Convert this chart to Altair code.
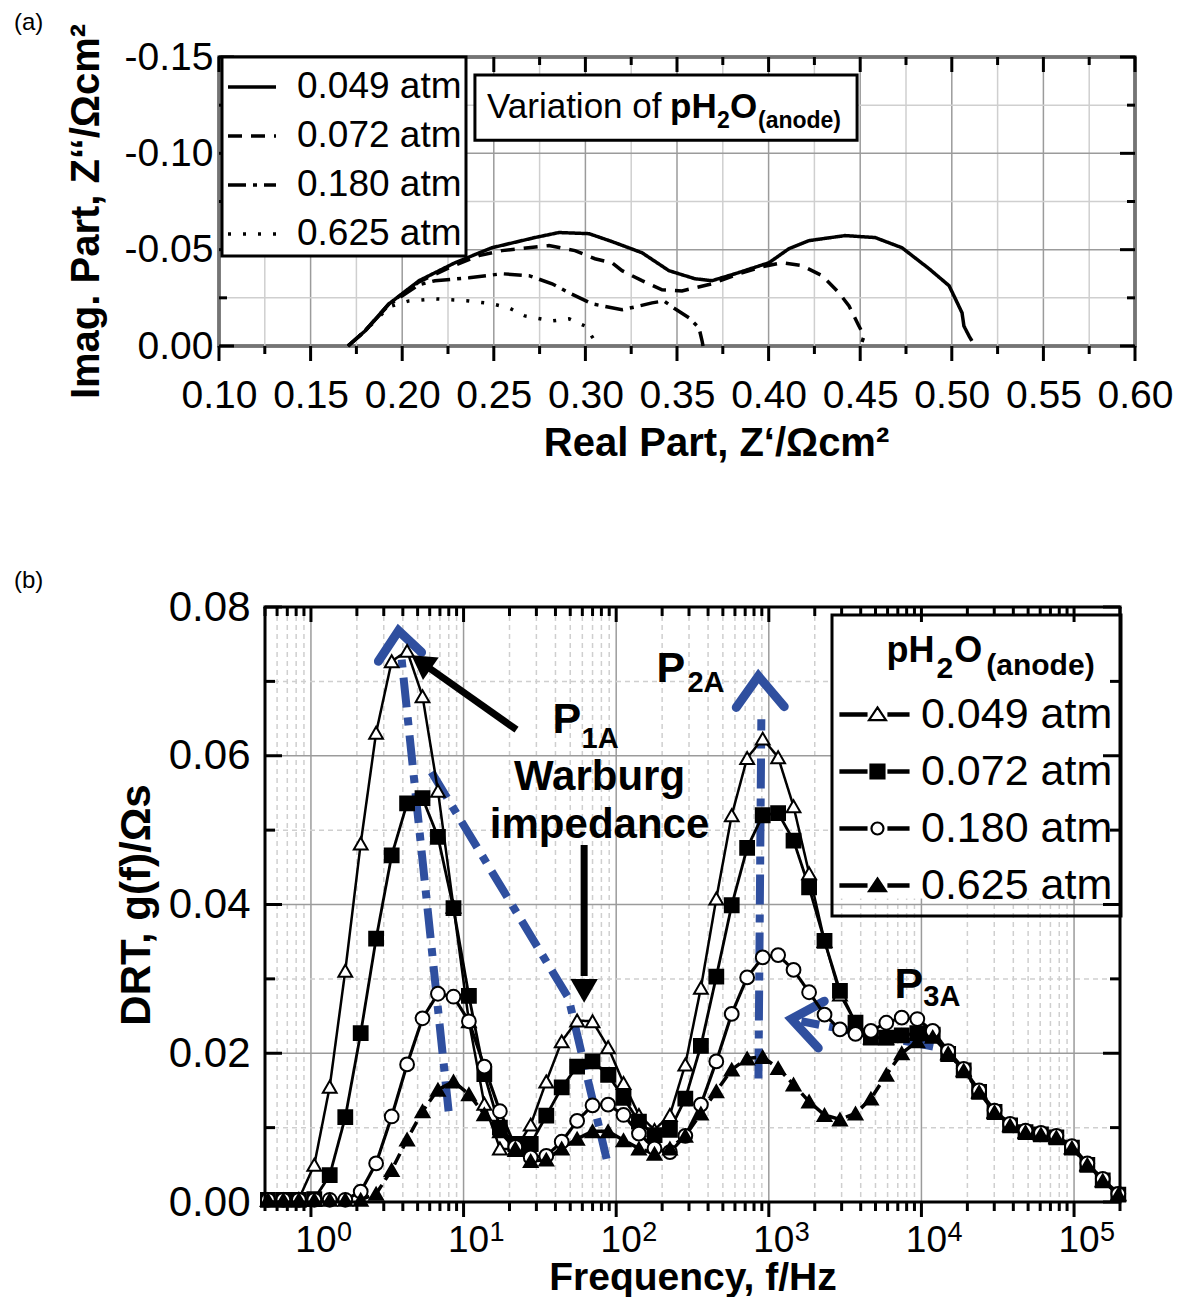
import altair as alt
import pandas as pd

FONT = "Liberation Sans"
BLUE = "#2f4f9f"
GRID_DARK = "#9b9b9b"
GRID_LIGHT = "#cfcfcf"

SERIES = ["0.049 atm", "0.072 atm", "0.180 atm", "0.625 atm"]

# ---------------- (a) Nyquist plot ----------------
ZRE_049 = [0.1704, 0.1797, 0.1928, 0.2092, 0.2288, 0.2490, 0.2725, 0.2856, 0.3020, 0.3145, 0.3309, 0.3456, 0.3598, 0.3691,
           0.3817, 0.4002, 0.4111, 0.4221, 0.4417, 0.4581, 0.4728, 0.4876, 0.4985, 0.5017, 0.5056, 0.5066, 0.5094, 0.5110]
ZIM_049 = [0.0, -0.0078, -0.0219, -0.0339, -0.0432, -0.0510, -0.0563, -0.0589, -0.0583, -0.0542, -0.0484, -0.0391, -0.0349, -0.0339,
           -0.0375, -0.0432, -0.0505, -0.0547, -0.0573, -0.0563, -0.0510, -0.0401, -0.0313, -0.0250, -0.0172, -0.0104, -0.0052, -0.0026]
ZRE_072 = [0.1704, 0.1797, 0.1928, 0.2092, 0.2255, 0.2419, 0.2545, 0.2801, 0.2943, 0.3052, 0.3145, 0.3200, 0.3309, 0.3418,
           0.3527, 0.3691, 0.3838, 0.3964, 0.4073, 0.4182, 0.4292, 0.4384, 0.4439, 0.4493, 0.4521, 0.4510]
ZIM_072 = [0.0, -0.0078, -0.0219, -0.0333, -0.0406, -0.0469, -0.0495, -0.0521, -0.0495, -0.0453, -0.0432, -0.0391, -0.0339, -0.0292,
           -0.0286, -0.0323, -0.0375, -0.0411, -0.0432, -0.0417, -0.0365, -0.0276, -0.0208, -0.0104, -0.0052, -0.0021]
ZRE_180 = [0.1704, 0.1797, 0.1928, 0.2092, 0.2179, 0.2365, 0.2545, 0.2692, 0.2818, 0.2911, 0.3036, 0.3200, 0.3271, 0.3364,
           0.3429, 0.3489, 0.3566, 0.3620, 0.3637, 0.3642]
ZIM_180 = [0.0, -0.0078, -0.0214, -0.0318, -0.0339, -0.0354, -0.0375, -0.0365, -0.0323, -0.0276, -0.0219, -0.0188, -0.0203, -0.0224,
           -0.0234, -0.0193, -0.0146, -0.0094, -0.0026, 0.0]
ZRE_625 = [0.1704, 0.1797, 0.1928, 0.2037, 0.2179, 0.2365, 0.2490, 0.2583, 0.2670, 0.2818, 0.2911, 0.2998, 0.3052, 0.3063]
ZIM_625 = [0.0, -0.0078, -0.0203, -0.0234, -0.0245, -0.0234, -0.0219, -0.0198, -0.0156, -0.0130, -0.0141, -0.0104, -0.0026, 0.0]

XA_MAJOR = [0.10, 0.15, 0.20, 0.25, 0.30, 0.35, 0.40, 0.45, 0.50, 0.55, 0.60]
XA_MINOR = [0.125, 0.175, 0.225, 0.275, 0.325, 0.375, 0.425, 0.475, 0.525, 0.575]
YA_MAJOR = [0.0, -0.05, -0.10, -0.15]
YA_MINOR = [-0.025, -0.075, -0.125]

# annotation box in (a): x0, x1, y0, y1 (data units)
BOX_A = [0.2397, 0.4483, -0.1406, -0.1068]
TXT_A_NORMAL = [("Variation of", 0.2463, -0.1182)]
TXT_A_BOLD = [("pH", 0.3462, -0.1182), ("O", 0.3789, -0.1182)]
TXT_A_SUB = [("2", 0.3718, -0.1130), ("(anode)", 0.3942, -0.1130)]

# ---------------- (b) DRT ----------------
LOG_F = [-0.282, -0.181, -0.079, 0.022, 0.123, 0.225, 0.326, 0.427, 0.529, 0.630, 0.731, 0.832, 0.934,
         1.035, 1.136, 1.238, 1.339, 1.440, 1.542, 1.643, 1.744, 1.845, 1.947,
         2.048, 2.149, 2.251, 2.352, 2.453, 2.555, 2.656, 2.757, 2.858, 2.960,
         3.061, 3.162, 3.264, 3.365, 3.466, 3.568, 3.669, 3.770, 3.871, 3.973,
         4.074, 4.175, 4.277, 4.378, 4.479, 4.581, 4.682, 4.783, 4.884, 4.986,
         5.087, 5.188, 5.290]
G_049 = [0.0003, 0.0003, 0.0004,
         0.0050, 0.0155, 0.0311, 0.0482, 0.0631, 0.0727, 0.0741, 0.0680, 0.0553, 0.0397,
         0.0243, 0.0132, 0.0072, 0.0070, 0.0104, 0.0162, 0.0216, 0.0244, 0.0243, 0.0208,
         0.0160, 0.0117, 0.0097, 0.0117, 0.0185, 0.0288, 0.0408, 0.0520, 0.0597, 0.0623,
         0.0598, 0.0532, 0.0442, 0.0351, 0.0279, 0.0241, 0.0221, 0.0220, 0.0224, 0.0228,
         0.0226, 0.0200, 0.0178, 0.0149, 0.0122, 0.0104, 0.0095, 0.0092, 0.0088, 0.0074,
         0.0051, 0.0030, 0.0011]
G_072 = [0.0003, 0.0003, 0.0003,
         0.0004, 0.0036, 0.0114, 0.0227, 0.0354, 0.0466, 0.0536, 0.0543, 0.0491, 0.0395,
         0.0277, 0.0172, 0.0100, 0.0078, 0.0078, 0.0116, 0.0154, 0.0182, 0.0189, 0.0171,
         0.0140, 0.0108, 0.0090, 0.0097, 0.0139, 0.0210, 0.0303, 0.0399, 0.0476, 0.0520,
         0.0523, 0.0486, 0.0423, 0.0351, 0.0284, 0.0241, 0.0221, 0.0221, 0.0224, 0.0227,
         0.0225, 0.0199, 0.0177, 0.0148, 0.0121, 0.0103, 0.0094, 0.0091, 0.0087, 0.0073,
         0.0050, 0.0029, 0.0010]
G_180 = [0.0003, 0.0003, 0.0003,
         0.0003, 0.0003, 0.0003, 0.0014, 0.0052, 0.0115, 0.0185, 0.0247, 0.0280, 0.0276,
         0.0243, 0.0182, 0.0122, 0.0074, 0.0060, 0.0062, 0.0081, 0.0109, 0.0130, 0.0131,
         0.0117, 0.0092, 0.0072, 0.0067, 0.0089, 0.0131, 0.0189, 0.0253, 0.0302, 0.0329,
         0.0332, 0.0312, 0.0282, 0.0252, 0.0232, 0.0226, 0.0230, 0.0241, 0.0248, 0.0246,
         0.0230, 0.0203, 0.0179, 0.0150, 0.0123, 0.0105, 0.0096, 0.0093, 0.0089, 0.0075,
         0.0052, 0.0031, 0.0011]
G_625 = [0.0003, 0.0003, 0.0003,
         0.0003, 0.0003, 0.0003, 0.0003, 0.0011, 0.0043, 0.0084, 0.0122, 0.0151, 0.0162,
         0.0145, 0.0118, 0.0095, 0.0072, 0.0055, 0.0057, 0.0072, 0.0085, 0.0095, 0.0095,
         0.0083, 0.0072, 0.0065, 0.0072, 0.0089, 0.0119, 0.0149, 0.0178, 0.0193, 0.0195,
         0.0180, 0.0158, 0.0135, 0.0117, 0.0111, 0.0119, 0.0139, 0.0171, 0.0200, 0.0216,
         0.0222, 0.0200, 0.0177, 0.0148, 0.0121, 0.0103, 0.0094, 0.0091, 0.0087, 0.0073,
         0.0050, 0.0029, 0.0010]

XB_DECADES = [1, 10, 100, 1000, 10000, 100000]
XB_EXP = ["0", "1", "2", "3", "4", "5"]
XB_MINOR = [0.5, 0.6, 0.7, 0.8, 0.9,
            2, 3, 4, 5, 6, 7, 8, 9,
            20, 30, 40, 50, 60, 70, 80, 90,
            200, 300, 400, 500, 600, 700, 800, 900,
            2000, 3000, 4000, 5000, 6000, 7000, 8000, 9000,
            20000, 30000, 40000, 50000, 60000, 70000, 80000, 90000,
            200000]
YB_MAJOR = [0.0, 0.02, 0.04, 0.06, 0.08]
YB_MINOR = [0.01, 0.03, 0.05, 0.07]

# blue dash-dot guide lines (log10 f, g) and chevron arrow heads
BLUE_LINES = {
    "l1": [(0.902, 0.0122), (0.594, 0.0730)],
    "l2": [(0.790, 0.0578), (1.688, 0.0274), (1.937, 0.0058)],
    "l3": [(2.932, 0.0166), (2.951, 0.0649)],
    "l4": [(4.077, 0.0209), (3.213, 0.0243)],
}
BLUE_HEADS = {
    "c1": [(0.442, 0.0727), (0.574, 0.0768), (0.725, 0.0739)],
    "c2": [(2.787, 0.0665), (2.932, 0.0707), (3.101, 0.0666)],
    "c3": [(3.363, 0.0270), (3.148, 0.0246), (3.324, 0.0207)],
}
BLACK_ARROWS = {
    "a1": [(1.347, 0.0635), (0.754, 0.0721)],
    "a2": [(1.790, 0.0480), (1.790, 0.0304)],
}
BLACK_HEADS = [(0.722, 0.0726, 305), (1.790, 0.0284, 180)]

TXT_B_BIG = [("P", 1.583, 0.0631), ("P", 2.264, 0.0699), ("P", 3.823, 0.0274)]
TXT_B_SUB = [("1A", 1.773, 0.0611), ("2A", 2.467, 0.0686), ("3A", 4.012, 0.0264)]
TXT_B_CENTER = [("Warburg", 1.891, 0.0554), ("impedance", 1.891, 0.0489)]
LEG_B_TITLE_BIG = [("pH", 3.771, 0.0726), ("O", 4.215, 0.0726)]
LEG_B_TITLE_SUB = [("2", 4.098, 0.0705), ("(anode)", 4.425, 0.0709)]
# white backing of the legend box in (b): log10 f0, log10 f1, g0, g1
LEG_B_BACK = [3.42, 5.30, 0.0408, 0.0788]

# ================= sizes =================
WA, HA = 916, 289
OFF_B = 46              # left offset of panel (b) frame relative to panel (a) frame
WB_IN, HB = 855, 595    # panel (b) frame size
WB = WB_IN + OFF_B

# ================= build panel (a) =================
rows = []
for name, xs, ys in [(SERIES[0], ZRE_049, ZIM_049), (SERIES[1], ZRE_072, ZIM_072),
                     (SERIES[2], ZRE_180, ZIM_180), (SERIES[3], ZRE_625, ZIM_625)]:
    for i, (xv, yv) in enumerate(zip(xs, ys)):
        rows.append({"pa": name, "zre": xv, "zim": yv, "i": i})
nyq = pd.DataFrame(rows)

xa_scale = alt.Scale(domain=[0.10, 0.60], nice=False, zero=False)
ya_scale = alt.Scale(domain=[-0.15, 0.0], nice=False, zero=False, reverse=True)
ax_xa = alt.Axis(values=XA_MAJOR, format=".2f", labelFont=FONT, labelFontSize=39, labelColor="black",
                 labelPadding=30, labelFlush=False, labelOverlap=False, ticks=False, domain=False, grid=False,
                 title="Real Part, Z‘/Ωcm²", titleFont=FONT, titleFontSize=40, titleFontWeight="bold",
                 titleColor="black", titlePadding=8, titleX=497)
ax_ya = alt.Axis(values=YA_MAJOR,
                 labelExpr="datum.value < 0 ? '-' + format(-datum.value, '.2f') : format(datum.value, '.2f')",
                 labelFont=FONT, labelFontSize=39, labelColor="black", labelPadding=6, labelFlush=False,
                 labelOverlap=False, ticks=False, domain=False, grid=False,
                 title="Imag. Part, Z‘‘/Ωcm²", titleFont=FONT, titleFontSize=40, titleFontWeight="bold",
                 titleColor="black", titlePadding=18, titleY=154)


def XA(field):
    return alt.X(f"{field}:Q", scale=xa_scale, axis=ax_xa)


def YA(field):
    return alt.Y(f"{field}:Q", scale=ya_scale, axis=ax_ya)


def vals(v):
    return pd.DataFrame({"v": v})


def ticks_x(values, enc, h, length):
    c = alt.Chart(vals(values)).mark_rule(color="black", strokeWidth=3)
    bottom = c.encode(x=enc("v"), y=alt.value(h), y2=alt.value(h + length))
    top = c.encode(x=enc("v"), y=alt.value(0), y2=alt.value(length))
    return [bottom, top]


def ticks_y(values, enc, x0, x1, length):
    c = alt.Chart(vals(values)).mark_rule(color="black", strokeWidth=3)
    left = c.encode(y=enc("v"), x=alt.value(x0), x2=alt.value(x0 + length))
    right = c.encode(y=enc("v"), x=alt.value(x1 - length), x2=alt.value(x1))
    return [left, right]


def panel_label(text, dx, dy):
    return alt.Chart(pd.DataFrame({"t": [text]})).mark_text(
        font=FONT, fontSize=24, align="left", baseline="alphabetic", color="black").encode(
        x=alt.value(dx), y=alt.value(dy), text="t:N")


grid_a = [
    alt.Chart(vals(XA_MINOR)).mark_rule(color=GRID_LIGHT, strokeWidth=1.5).encode(x=XA("v")),
    alt.Chart(vals(XA_MAJOR)).mark_rule(color=GRID_DARK, strokeWidth=1.5).encode(x=XA("v")),
    alt.Chart(vals(YA_MINOR)).mark_rule(color=GRID_LIGHT, strokeWidth=1.5).encode(y=YA("v")),
    alt.Chart(vals(YA_MAJOR)).mark_rule(color=GRID_DARK, strokeWidth=1.5).encode(y=YA("v")),
]
ticks_a = (ticks_x(XA_MAJOR, XA, HA, 15) + ticks_x(XA_MINOR, XA, HA, 8)
           + ticks_y(YA_MAJOR, YA, 0, WA, 15) + ticks_y(YA_MINOR, YA, 0, WA, 8))

legend_a = alt.Legend(title=None, orient="none", legendX=3, legendY=0, symbolType="stroke", symbolSize=2304,
                      symbolStrokeWidth=3.5, symbolStrokeColor="black", labelFont=FONT, labelFontSize=37,
                      labelColor="black", labelOffset=19, labelLimit=400, rowPadding=5, padding=4,
                      fillColor="white", strokeColor="black")
lines_a = alt.Chart(nyq).mark_line(color="black", strokeWidth=3.5, strokeCap="butt").encode(
    x=XA("zre"), y=YA("zim"), order=alt.Order("i:Q"),
    strokeDash=alt.StrokeDash("pa:N", scale=alt.Scale(domain=SERIES, range=[[1, 0], [14, 9], [18, 7, 4, 7], [3, 12]]),
                              legend=legend_a))

box_a = alt.Chart(pd.DataFrame([{"x0": BOX_A[0], "x1": BOX_A[1], "y0": BOX_A[2], "y1": BOX_A[3]}])).mark_rect(
    fill="white", stroke="black", strokeWidth=3).encode(x=XA("x0"), x2="x1", y=YA("y0"), y2="y1")


def tdf(items):
    return pd.DataFrame([{"t": t, "x": xv, "y": yv} for t, xv, yv in items])


def text_a(items, size, weight):
    return alt.Chart(tdf(items)).mark_text(font=FONT, fontSize=size, fontWeight=weight, align="left",
                                           baseline="alphabetic", color="black").encode(
        x=XA("x"), y=YA("y"), text="t:N")


texts_a = [text_a(TXT_A_NORMAL, 35, "normal"), text_a(TXT_A_BOLD, 35, "bold"), text_a(TXT_A_SUB, 23, "bold")]

chart_a = alt.layer(*grid_a, lines_a, box_a, *texts_a, *ticks_a, panel_label("(a)", -205, -27)).properties(
    width=WA, height=HA)

# ================= build panel (b) =================
rows = []
for name, gs in zip(SERIES, [G_049, G_072, G_180, G_625]):
    for k, (lf, g) in enumerate(zip(LOG_F, gs)):
        rows.append({"series": name, "f": 10 ** lf, "g": g, "k": k})
drt = pd.DataFrame(rows)

xb_scale = alt.Scale(type="log", domain=[0.5, 2e5], nice=False, range=[OFF_B, WB])
yb_scale = alt.Scale(domain=[0.0, 0.08], nice=False, zero=False)
ax_xb = alt.Axis(values=XB_DECADES, labels=False, ticks=False, domain=False, grid=False,
                 title="Frequency, f/Hz", titleFont=FONT, titleFontSize=39, titleFontWeight="bold",
                 titleColor="black", titlePadding=56, titleX=OFF_B + WB_IN / 2)
ax_yb = alt.Axis(values=YB_MAJOR, format=".2f", labelFont=FONT, labelFontSize=42, labelColor="black",
                 labelPadding=15, labelFlush=False, labelOverlap=False, ticks=False, domain=False, grid=False,
                 offset=-OFF_B,
                 title="DRT, g(f)/Ωs", titleFont=FONT, titleFontSize=42, titleFontWeight="bold",
                 titleColor="black", titlePadding=10)


def XB(field):
    return alt.X(f"{field}:Q", scale=xb_scale, axis=ax_xb)


def YB(field):
    return alt.Y(f"{field}:Q", scale=yb_scale, axis=ax_yb)


grid_b = [
    alt.Chart(vals(XB_MINOR)).mark_rule(color=GRID_LIGHT, strokeWidth=1.5, strokeDash=[5, 4]).encode(x=XB("v")),
    alt.Chart(vals(XB_DECADES)).mark_rule(color=GRID_DARK, strokeWidth=1.5).encode(x=XB("v")),
    alt.Chart(vals(YB_MINOR)).mark_rule(color=GRID_LIGHT, strokeWidth=1.5, strokeDash=[5, 4]).encode(
        y=YB("v"), x=alt.value(OFF_B), x2=alt.value(WB)),
    alt.Chart(vals(YB_MAJOR)).mark_rule(color=GRID_DARK, strokeWidth=1.5).encode(
        y=YB("v"), x=alt.value(OFF_B), x2=alt.value(WB)),
]
ticks_b = (ticks_x(XB_DECADES, XB, HB, 15) + ticks_x(XB_MINOR, XB, HB, 9)
           + ticks_y(YB_MAJOR, YB, OFF_B, WB, 17) + ticks_y(YB_MINOR, YB, OFF_B, WB, 10))

frame_rule = alt.Chart(vals([0])).mark_rule(color="black", strokeWidth=3)
frame_b = [
    frame_rule.encode(x=alt.value(OFF_B), x2=alt.value(OFF_B), y=alt.value(0), y2=alt.value(HB)),
    frame_rule.encode(x=alt.value(WB), x2=alt.value(WB), y=alt.value(0), y2=alt.value(HB)),
    frame_rule.encode(x=alt.value(OFF_B - 1.5), x2=alt.value(WB + 1.5), y=alt.value(0), y2=alt.value(0)),
    frame_rule.encode(x=alt.value(OFF_B - 1.5), x2=alt.value(WB + 1.5), y=alt.value(HB), y2=alt.value(HB)),
]

lab10 = alt.Chart(pd.DataFrame({"f": XB_DECADES, "e": XB_EXP})).mark_text(
    text="10", font=FONT, fontSize=37, align="center", baseline="alphabetic", dx=5, color="black").encode(
    x=XB("f"), y=alt.value(HB + 50))
labexp = alt.Chart(pd.DataFrame({"f": XB_DECADES, "e": XB_EXP})).mark_text(
    font=FONT, fontSize=27, align="left", baseline="alphabetic", dx=26, color="black").encode(
    x=XB("f"), y=alt.value(HB + 39), text="e:N")


def path_df(d):
    out = []
    for key, pts in d.items():
        for j, (lf, g) in enumerate(pts):
            out.append({"id": key, "j": j, "f": 10 ** lf, "g": g})
    return pd.DataFrame(out)


blue_lines = alt.Chart(path_df(BLUE_LINES)).mark_line(color=BLUE, strokeWidth=8, strokeDash=[30, 10, 8, 10],
                                                      strokeCap="butt").encode(
    x=XB("f"), y=YB("g"), detail="id:N", order="j:Q")
blue_heads = alt.Chart(path_df(BLUE_HEADS)).mark_line(color=BLUE, strokeWidth=9, strokeCap="round",
                                                      strokeJoin="miter").encode(
    x=XB("f"), y=YB("g"), detail="id:N", order="j:Q")

lines_b = alt.Chart(drt).mark_line(color="black").encode(
    x=XB("f"), y=YB("g"), order="k:Q",
    strokeDash=alt.StrokeDash("series:N", scale=alt.Scale(domain=SERIES, range=[[1, 0], [1, 0], [1, 0], [12, 6]]),
                              legend=None),
    strokeWidth=alt.StrokeWidth("series:N", scale=alt.Scale(domain=SERIES, range=[2.5, 3.5, 2.5, 3.5]),
                                legend=None))
pts_b = alt.Chart(drt).mark_point(filled=True, stroke="black", strokeWidth=2, size=190, opacity=1).encode(
    x=XB("f"), y=YB("g"),
    shape=alt.Shape("series:N", scale=alt.Scale(domain=SERIES, range=["triangle-up", "square", "circle", "triangle-up"]),
                    legend=None),
    fill=alt.Fill("series:N", scale=alt.Scale(domain=SERIES, range=["white", "black", "white", "black"]), legend=None))

black_arrows = alt.Chart(path_df(BLACK_ARROWS)).mark_line(color="black", strokeWidth=7, strokeCap="butt").encode(
    x=XB("f"), y=YB("g"), detail="id:N", order="j:Q")
black_heads = [
    alt.Chart(pd.DataFrame([{"f": 10 ** lf, "g": g}])).mark_point(
        shape="triangle-up", filled=True, color="black", size=750, angle=ang, opacity=1).encode(x=XB("f"), y=YB("g"))
    for lf, g, ang in BLACK_HEADS
]


def bdf(items):
    return pd.DataFrame([{"t": t, "f": 10 ** lf, "g": g} for t, lf, g in items])


def text_b(items, size, align="left"):
    return alt.Chart(bdf(items)).mark_text(font=FONT, fontSize=size, fontWeight="bold", align=align,
                                           baseline="alphabetic", color="black").encode(
        x=XB("f"), y=YB("g"), text="t:N")


texts_b = [text_b(TXT_B_BIG, 43), text_b(TXT_B_SUB, 29), text_b(TXT_B_CENTER, 42, "center")]

# legend symbols: bar - marker - bar (unit = sqrt(size)/2)
BARS = "M-1.4,-0.075H0.33V0.075H-1.4Z M1.8,-0.075H3.13V0.075H1.8Z "
P_TRI = BARS + "M1.065,-0.47L1.63,0.38H0.5Z"
P_SQ = BARS + "M0.6,-0.467H1.53V0.467H0.6Z"
P_CIR = BARS + "M0.665,0A0.4,0.4 0 1,0 1.465,0A0.4,0.4 0 1,0 0.665,0Z"

leg_back = alt.Chart(pd.DataFrame([{"f0": 10 ** LEG_B_BACK[0], "f1": 10 ** LEG_B_BACK[1],
                                    "g0": LEG_B_BACK[2], "g1": LEG_B_BACK[3]}])).mark_rect(
    fill="white", strokeWidth=0).encode(x=XB("f0"), x2="f1", y=YB("g0"), y2="g1")

legend_b = alt.Legend(title=" ", titleFontSize=36, titlePadding=34, orient="none", legendX=567 + OFF_B, legendY=8,
                      symbolSize=900, symbolStrokeColor="black", symbolStrokeWidth=2.2, symbolOpacity=1,
                      labelFont=FONT, labelFontSize=43, labelColor="black", labelOffset=38, labelLimit=400,
                      rowPadding=13, padding=8, fillColor="transparent", strokeColor="black")
leg_b = alt.Chart(drt).transform_filter("false").mark_point(filled=True, strokeWidth=2.2, opacity=1).encode(
    x=XB("f"), y=YB("g"),
    shape=alt.Shape("series:N", scale=alt.Scale(domain=SERIES, range=[P_TRI, P_SQ, P_CIR, P_TRI]), legend=legend_b),
    fill=alt.Fill("series:N", scale=alt.Scale(domain=SERIES, range=["white", "black", "white", "black"]),
                  legend=legend_b),
    stroke=alt.Stroke("series:N", scale=alt.Scale(domain=SERIES, range=["black", "black", "black", "black"]),
                      legend=legend_b))

leg_title = [text_b(LEG_B_TITLE_BIG, 36), text_b(LEG_B_TITLE_SUB, 30)]

chart_b = alt.layer(*grid_b, blue_lines, blue_heads, lines_b, pts_b, black_arrows, *black_heads, *texts_b,
                    leg_back, leg_b, *leg_title, *frame_b, *ticks_b, lab10, labexp,
                    panel_label("(b)", -205, -19)).resolve_scale(
    shape="independent", fill="independent", stroke="independent").properties(
    width=WB, height=HB, view=alt.ViewBackground(strokeOpacity=0))

chart = alt.vconcat(chart_a, chart_b, spacing=104).resolve_scale(
    x="independent", y="independent", strokeDash="independent", shape="independent", fill="independent",
    stroke="independent", strokeWidth="independent"
).properties(padding={"left": 12, "top": 9, "right": 2, "bottom": 0}).configure(font=FONT).configure_view(
    stroke="black", strokeWidth=3).configure_legend(strokeWidth=3)

chart.save("out.html", embed_options={"renderer": "svg", "actions": False})
